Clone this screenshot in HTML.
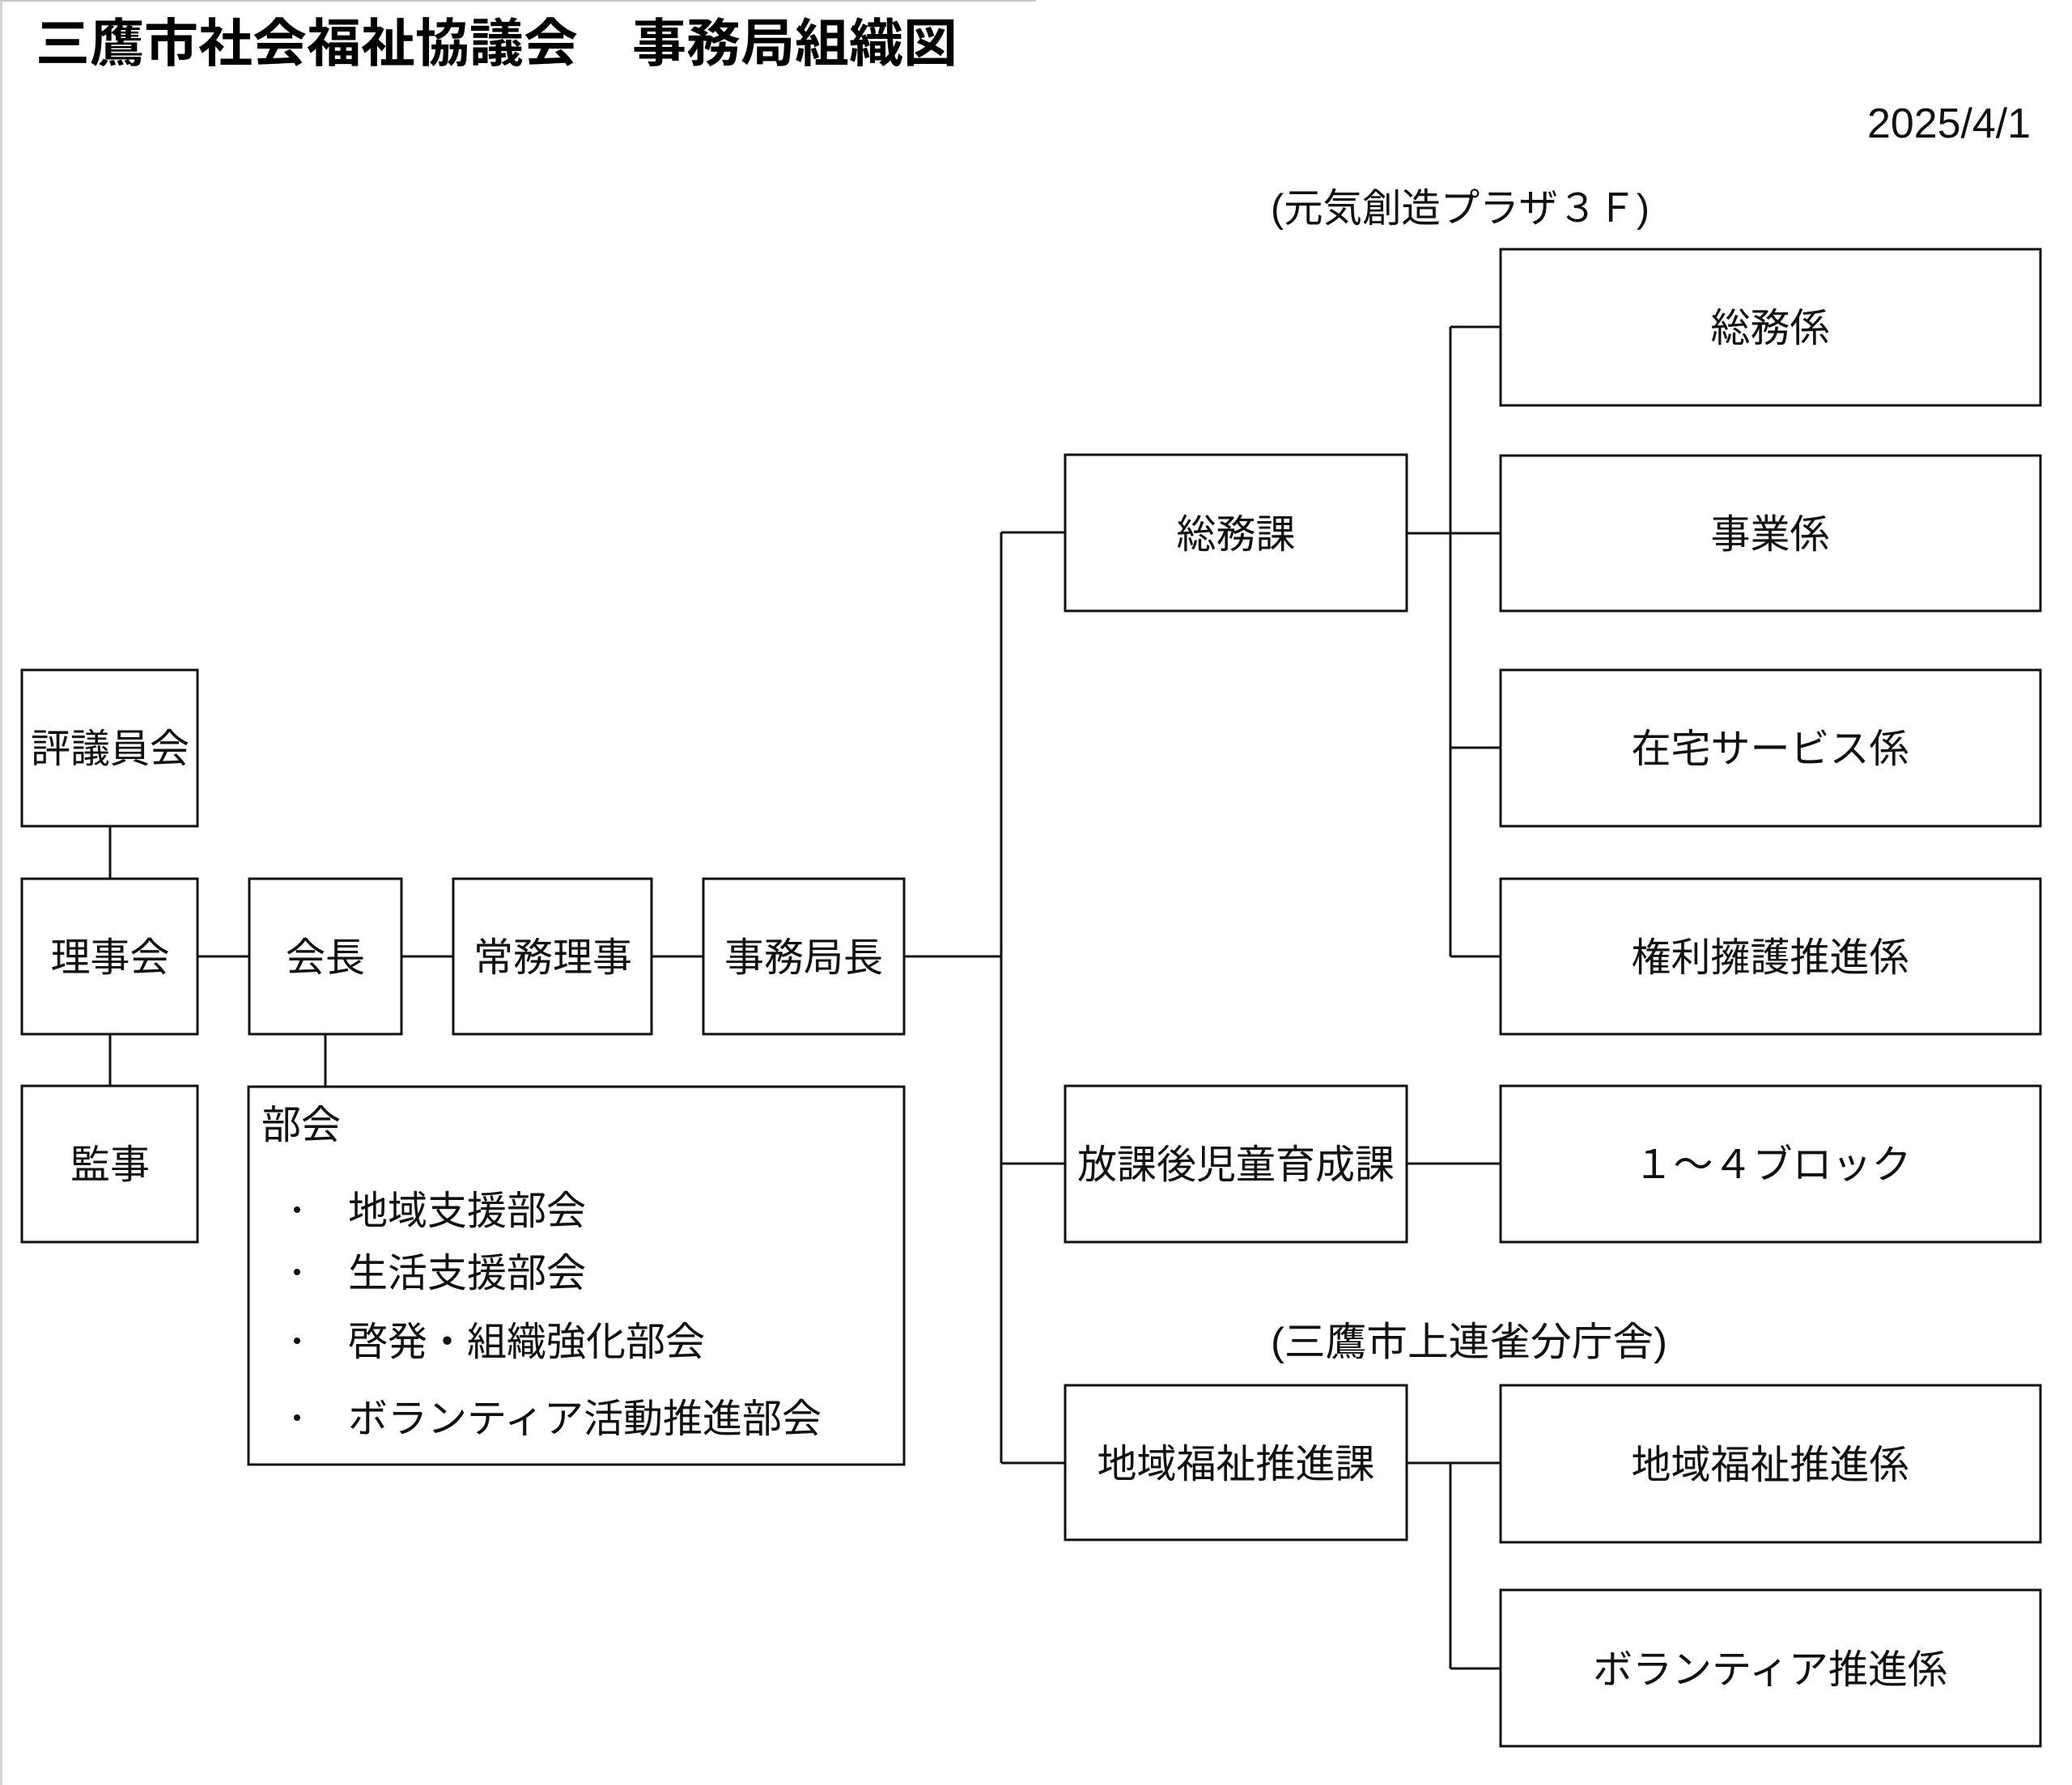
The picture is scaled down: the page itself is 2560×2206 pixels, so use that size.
<!DOCTYPE html>
<html lang="ja">
<head>
<meta charset="utf-8">
<style>
  html,body{margin:0;padding:0;background:#fff;}
  body{width:2560px;height:2206px;overflow:hidden;position:relative;}
  svg{position:absolute;left:0;top:0;}
  .t{font-family:"Liberation Sans","Noto Sans CJK JP",sans-serif;font-size:49px;fill:#111;}
</style>
</head>
<body>
<svg width="2560" height="2206" viewBox="0 0 2560 2206" xmlns="http://www.w3.org/2000/svg">
  <!-- faint page edges -->
  <rect x="0" y="0" width="3" height="2206" fill="#d4d4d4"/>
  <rect x="0" y="0" width="1280" height="2" fill="#c8c8c8"/>

  <!-- Title -->
  <text x="44" y="76" textLength="1139" lengthAdjust="spacingAndGlyphs" style="font-family:'Liberation Sans','Noto Sans CJK JP',sans-serif;font-size:64px;font-weight:bold;fill:#000;">三鷹市社会福祉協議会　事務局組織図</text>

  <!-- Date -->
  <text x="2509" y="170" text-anchor="end" textLength="202" lengthAdjust="spacingAndGlyphs" style="font-family:'Liberation Sans',sans-serif;font-size:52px;fill:#111;">2025/4/1</text>

  <!-- Location labels -->
  <text class="t" x="1570" y="274" textLength="468" lengthAdjust="spacingAndGlyphs">(元気創造プラザ３Ｆ)</text>
  <text class="t" x="1570" y="1675" textLength="490" lengthAdjust="spacingAndGlyphs">(三鷹市上連雀分庁舎)</text>

  <!-- Connectors -->
  <g stroke="#111" stroke-width="3" fill="none">
    <!-- left column -->
    <line x1="136" y1="1021" x2="136" y2="1086"/>
    <line x1="136" y1="1278" x2="136" y2="1342"/>
    <line x1="244" y1="1182" x2="308" y2="1182"/>
    <line x1="496" y1="1182" x2="560" y2="1182"/>
    <line x1="805" y1="1182" x2="869" y2="1182"/>
    <line x1="1117" y1="1182" x2="1237" y2="1182"/>
    <line x1="402" y1="1278" x2="402" y2="1343"/>
    <!-- trunk -->
    <line x1="1237" y1="658" x2="1237" y2="1808"/>
    <line x1="1237" y1="658" x2="1316" y2="658"/>
    <line x1="1237" y1="1438" x2="1316" y2="1438"/>
    <line x1="1237" y1="1808" x2="1316" y2="1808"/>
    <!-- 総務課 branches -->
    <line x1="1738" y1="659" x2="1854" y2="659"/>
    <line x1="1792" y1="404" x2="1792" y2="1182"/>
    <line x1="1792" y1="404" x2="1854" y2="404"/>
    <line x1="1792" y1="924" x2="1854" y2="924"/>
    <line x1="1792" y1="1182" x2="1854" y2="1182"/>
    <!-- 放課後 -->
    <line x1="1738" y1="1438" x2="1854" y2="1438"/>
    <!-- 地域福祉推進課 -->
    <line x1="1738" y1="1808" x2="1854" y2="1808"/>
    <line x1="1792" y1="1808" x2="1792" y2="2062"/>
    <line x1="1792" y1="2062" x2="1854" y2="2062"/>
  </g>

  <!-- Boxes -->
  <g stroke="#111" stroke-width="3" fill="#fff">
    <rect x="1854" y="308" width="667" height="193"/>
    <rect x="1854" y="563" width="667" height="192"/>
    <rect x="1854" y="828" width="667" height="193"/>
    <rect x="1854" y="1086" width="667" height="192"/>
    <rect x="1854" y="1342" width="667" height="193"/>
    <rect x="1854" y="1712" width="667" height="194"/>
    <rect x="1854" y="1965" width="667" height="193"/>
    <rect x="1316" y="562" width="422" height="193"/>
    <rect x="1316" y="1342" width="422" height="193"/>
    <rect x="1316" y="1712" width="422" height="191"/>
    <rect x="27" y="828" width="217" height="193"/>
    <rect x="27" y="1086" width="217" height="192"/>
    <rect x="27" y="1342" width="217" height="193"/>
    <rect x="308" y="1086" width="188" height="192"/>
    <rect x="560" y="1086" width="245" height="192"/>
    <rect x="869" y="1086" width="248" height="192"/>
    <rect x="307" y="1343" width="810" height="467"/>
  </g>

  <!-- Box labels -->
  <g class="t" text-anchor="middle">
    <text class="t" x="2187" y="422" text-anchor="middle">総務係</text>
    <text class="t" x="2187" y="677" text-anchor="middle">事業係</text>
    <text class="t" x="2187" y="942" text-anchor="middle">在宅サービス係</text>
    <text class="t" x="2187" y="1200" text-anchor="middle">権利擁護推進係</text>
    <text class="t" x="2190" y="1456" text-anchor="middle">１～４ブロック</text>
    <text class="t" x="2187" y="1827" text-anchor="middle">地域福祉推進係</text>
    <text class="t" x="2187" y="2080" text-anchor="middle">ボランティア推進係</text>
    <text class="t" x="1527" y="677" text-anchor="middle">総務課</text>
    <text class="t" x="1527" y="1456" text-anchor="middle">放課後児童育成課</text>
    <text class="t" x="1527" y="1826" text-anchor="middle">地域福祉推進課</text>
    <text class="t" x="136" y="942" text-anchor="middle">評議員会</text>
    <text class="t" x="136" y="1200" text-anchor="middle">理事会</text>
    <text class="t" x="136" y="1456" text-anchor="middle">監事</text>
    <text class="t" x="402" y="1200" text-anchor="middle">会長</text>
    <text class="t" x="683" y="1200" text-anchor="middle">常務理事</text>
    <text class="t" x="993" y="1200" text-anchor="middle">事務局長</text>
  </g>

  <!-- 部会 contents -->
  <text class="t" x="323" y="1407">部会</text>
  <g fill="#111">
    <circle cx="367" cy="1495" r="4"/>
    <circle cx="367" cy="1572" r="4"/>
    <circle cx="367" cy="1657" r="4"/>
    <circle cx="367" cy="1752" r="4"/>
  </g>
  <text class="t" x="430" y="1513">地域支援部会</text>
  <text class="t" x="430" y="1590">生活支援部会</text>
  <text class="t" x="430" y="1675">啓発・組織強化部会</text>
  <text class="t" x="430" y="1770">ボランティア活動推進部会</text>
</svg>
</body>
</html>
